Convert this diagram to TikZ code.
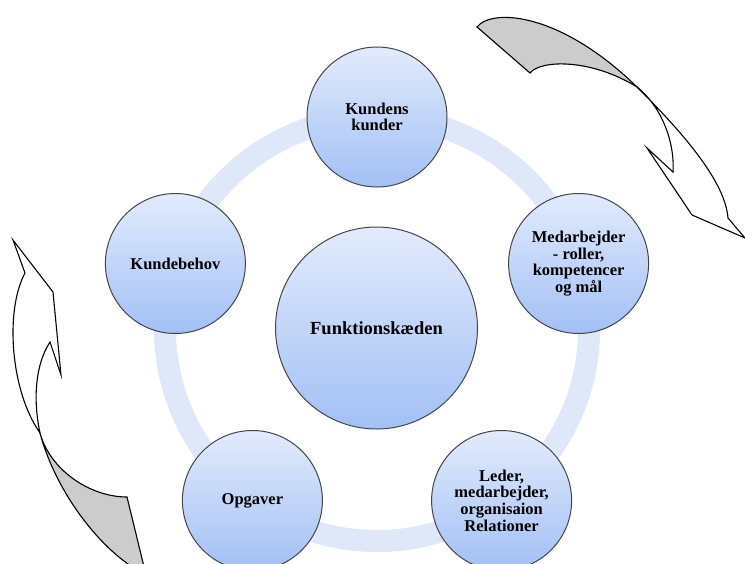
\documentclass[tikz,border=0pt]{standalone}
\usepackage{fontspec}
\setmainfont{Liberation Serif}
\definecolor{nodetop}{RGB}{226,235,252}
\definecolor{nodebot}{RGB}{162,192,245}
\definecolor{ringcol}{RGB}{223,232,249}
\definecolor{ribbongray}{RGB}{204,204,204}
\tikzset{
  outer/.style={circle, minimum size=140pt, inner sep=0pt, draw=gray!55!black, line width=1pt,
    top color=nodetop, bottom color=nodebot, align=center,
    font=\bfseries\fontsize{16.5}{16.7}\selectfont},
  hub/.style={outer, minimum size=202pt, font=\bfseries\fontsize{18.5}{20}\selectfont},
  band/.style={line width=22pt, draw=ringcol},
  ribbonback/.style={draw=black, fill=ribbongray, line width=1.1pt, line join=miter},
  ribbonfront/.style={draw=black, fill=white, line width=1.1pt, line join=miter},
}
\begin{document}
\begin{tikzpicture}[x=1pt,y=-1pt]
\useasboundingbox (0,0) rectangle (745,563);
\clip (0,0) rectangle (745,563);
\fill[white] (0,0) rectangle (745,563);
\coordinate (ringc) at (377,329);
\draw[band] (ringc) circle[radius=212pt];
\node[hub] (hub) at (376.5,328) {Funktionskæden};
\node[outer] (kk) at (377,117) {Kundens\\kunder};
\node[outer] (med) at (578.6,263.5) {Medarbejder\\- roller,\\kompetencer\\og mål};
\node[outer] (led) at (501.6,500.5) {Leder,\\medarbejder,\\organisaion\\Relationer};
\node[outer] (opg) at (252.4,500.5) {Opgaver};
\node[outer] (kb) at (175.4,263.5) {Kundebehov};
% top right curved arrow
\filldraw[ribbonback] (477,27) .. controls (492,8) and (560,12) .. (637,87)
  .. controls (590,58) and (540,60) .. (530,73) -- cycle;
\filldraw[ribbonfront] (637,87) .. controls (680,130) and (725,180) .. (728,218)
  -- (745,238) -- (692,215) -- (647,148) -- (673,172)
  .. controls (675,140) and (660,105) .. (637,87) -- cycle;
% left curved arrow
\filldraw[ribbonfront] (13,240) -- (25,273) .. controls (5,310) and (10,390) .. (40,433)
  .. controls (33,400) and (35,365) .. (50,342) -- (61,375) -- (53,292) -- cycle;
\filldraw[ribbonback] (40,433) .. controls (50,470) and (90,497) .. (127,497)
  -- (146,575) .. controls (100,552) and (55,490) .. (40,433) -- cycle;
\end{tikzpicture}
\end{document}
